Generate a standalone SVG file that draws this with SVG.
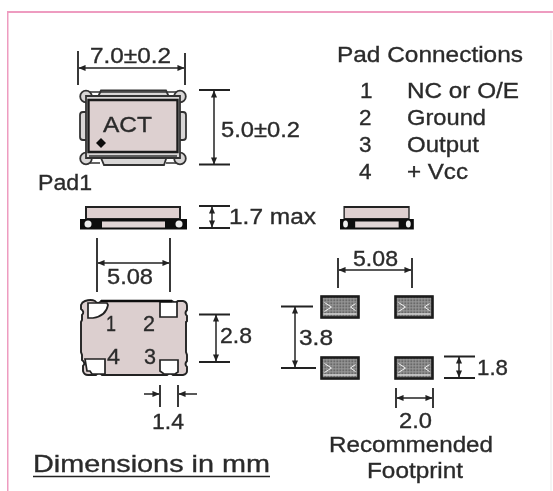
<svg xmlns="http://www.w3.org/2000/svg" width="553" height="491" viewBox="0 0 553 491">
<style>
text{font-family:"Liberation Sans",Arial,sans-serif;fill:#2b2b2b;font-size:22.500px;stroke:#2b2b2b;stroke-width:.35}
.d{stroke:#222;stroke-width:1.8;fill:none}
.a{stroke:#222;stroke-width:1.5;fill:none;marker-start:url(#h);marker-end:url(#h)}
.o{stroke:#222;stroke-width:1.5;fill:none;marker-end:url(#h)}
.b{fill:#dfd0d0;stroke:#222;stroke-width:2}
.w{fill:#fff;stroke:#222;stroke-width:1.7}
.g{fill:#d8d6d6;stroke:#333;stroke-width:1.8}
.p{fill:url(#hatch);stroke:#1c1c1c;stroke-width:2.600}
.c{fill:none;stroke:#f4f4f4;stroke-width:1}
</style>
<defs>
<filter id="soft" x="0" y="0" width="100%" height="100%"><feGaussianBlur stdDeviation="0.45"/></filter>
<marker id="h" viewBox="0 0 8 8" refX="7.5" refY="4" markerWidth="7" markerHeight="7" markerUnits="userSpaceOnUse" orient="auto-start-reverse"><path d="M0 0.5L8 4L0 7.5Z" fill="#222"/></marker>
<pattern id="hatch" width="3" height="3" patternUnits="userSpaceOnUse"><rect width="3" height="3" fill="#999"/><rect width="1.500" height="1.500" fill="#444"/></pattern>
<g id="side"><rect class="b" x="6" y="0" width="94" height="12"/><rect x="0" y="12" width="107" height="10.500" fill="#111"/><rect x="22" y="14.500" width="63" height="6" fill="#e0d4d4"/><circle cx="8" cy="17" r="3.500" fill="#eee"/><circle cx="99" cy="17" r="3.500" fill="#eee"/></g>
<g id="pad"><rect class="p" x="0" y="0" width="37" height="21"/><path class="c" d="M3 6L10 10.500L3 15M34 7L29 10.500L34 14M2 17.500H35"/></g>
</defs>
<rect x="0" y="0" width="553" height="491" fill="#fff"/>
<g filter="url(#soft)">
<path d="M7 491V11.500H553" fill="none" stroke="#ee9cc0" stroke-width="3"/>
<path d="M551 30V491" stroke="#f2f0f0" stroke-width="1.500"/>
<g id="top-view">
<path class="g" d="M101 90.500H166L170 99H97Z"/>
<path class="g" d="M99 153H168L164 165H104Z"/>
<rect class="g" x="80" y="112" width="9" height="28" rx="3"/>
<rect class="g" x="177" y="112" width="9" height="28" rx="3"/>
<circle class="g" cx="86" cy="96.500" r="5.800"/><circle class="g" cx="180" cy="96.500" r="5.800"/><circle class="g" cx="86" cy="158.500" r="5.800"/><circle class="g" cx="180" cy="158.500" r="5.800"/>
<path class="g" d="M86 96H180V158H86Z" stroke="none"/>
<path d="M90 92H176M90 163H100M166 163H176" stroke="#333" stroke-width="1.500"/>
<rect x="89" y="100" width="88" height="52" fill="#ddd0d0"/>
<path d="M88.500 100H177.500V152H88.500Z" fill="none" stroke="#1c1c1c" stroke-width="2.400"/>
<path d="M89 156H177" stroke="#333" stroke-width="1.500"/>
<path d="M101 138L106 143L101 148L96 143Z" fill="#111"/>
<text x="103" y="132" textLength="49" lengthAdjust="spacingAndGlyphs">ACT</text>
</g>
<g id="side-view-1"><use href="#side" x="80" y="207"/></g>
<g id="side-view-2"><use href="#side" transform="translate(340 207) scale(0.69 1)"/></g>
<g id="bottom-view">
<path d="M85 301Q91 299 95 301Q98 305 101 301H172Q175 304 178 301H183Q187 302 187 306V310Q184 313 187 316V321L186 322V352L187 355V361Q184 364 187 367V371Q187 374 183 375H173Q170 372 167 375H102Q99 371 96 375H88Q84 375 83 371V366Q86 363 82 360V355L81 352V322L82 320V315Q85 312 81 309V305Q82 302 85 301Z" fill="#dccfcf" stroke="#222" stroke-width="1.900"/>
<path class="w" d="M88 303H107L108 305Q106 316 93 318H88Z"/>
<path class="w" d="M160 302H177V317H160Z"/>
<path class="w" d="M85 359H105V374H92L90 371H87Z"/>
<path class="w" d="M160 360H178V372L175 374H164L160 371Z"/>
<path d="M101 301H172" stroke="#111" stroke-width="2.500"/>
<text x="106" y="331" textLength="10" lengthAdjust="spacingAndGlyphs">1</text><text x="143" y="331" textLength="12" lengthAdjust="spacingAndGlyphs">2</text><text x="107" y="364" textLength="13" lengthAdjust="spacingAndGlyphs">4</text><text x="144" y="364" textLength="12" lengthAdjust="spacingAndGlyphs">3</text>
</g>
<g id="footprint">
<use id="pad-1" href="#pad" x="321.500" y="296.500"/><use id="pad-2" href="#pad" x="395.500" y="296.500"/>
<use id="pad-3" href="#pad" x="321.500" y="357.500"/><use id="pad-4" href="#pad" x="395.500" y="357.500"/>
</g>
<g id="connectors">
<path class="d" d="M78 51V85M185 53V85M199 90H230M199 164.500H230M199 206H230M199 228H230M97 238V292M170 238V292M199 314.500H230M199 362H230M160 385V407M178 385V407M338 258V288M412 258V288M281 306.500H313M281 368H316M444 356.500H475M444 378H475M396 388V408M433 388V408"/>
<path class="a" d="M79 68H184"/><path class="a" d="M214 91V164"/><path class="a" d="M212 207V227"/><path class="a" d="M98 263H169"/><path class="a" d="M216 315V361"/>
<path class="a" d="M339 270H411"/><path class="a" d="M295 307V367"/><path class="a" d="M459 357V377"/><path class="a" d="M397 398H432"/>
<path class="o" d="M144 394H159"/><path class="o" d="M197 394H179"/>
</g>
<g id="labels">
<text x="90" y="63" textLength="81" lengthAdjust="spacingAndGlyphs">7.0±0.2</text>
<text x="221" y="137" textLength="79" lengthAdjust="spacingAndGlyphs">5.0±0.2</text>
<text x="38" y="190" textLength="54" lengthAdjust="spacingAndGlyphs">Pad1</text>
<text x="229" y="224" textLength="87" lengthAdjust="spacingAndGlyphs">1.7 max</text>
<text x="107" y="284" textLength="46" lengthAdjust="spacingAndGlyphs">5.08</text>
<text x="220" y="343" textLength="32" lengthAdjust="spacingAndGlyphs">2.8</text>
<text x="152" y="429" textLength="32" lengthAdjust="spacingAndGlyphs">1.4</text>
<text x="353" y="266" textLength="45" lengthAdjust="spacingAndGlyphs">5.08</text>
<text x="299" y="345" textLength="34" lengthAdjust="spacingAndGlyphs">3.8</text>
<text x="477" y="375" textLength="31" lengthAdjust="spacingAndGlyphs">1.8</text>
<text x="399" y="428" textLength="33" lengthAdjust="spacingAndGlyphs">2.0</text>
<text x="329" y="452" textLength="164" lengthAdjust="spacingAndGlyphs">Recommended</text>
<text x="367" y="478" textLength="96" lengthAdjust="spacingAndGlyphs">Footprint</text>
<text x="33" y="472" style="font-size:24px" textLength="237" lengthAdjust="spacingAndGlyphs">Dimensions in mm</text>
<path d="M33 476.500H270" stroke="#222" stroke-width="1.700"/>
<text x="337" y="62" textLength="186" lengthAdjust="spacingAndGlyphs">Pad Connections</text>
<text x="360" y="98">1</text><text x="407" y="98" textLength="112" lengthAdjust="spacingAndGlyphs">NC or O/E</text>
<text x="359" y="125">2</text><text x="407" y="125" textLength="79" lengthAdjust="spacingAndGlyphs">Ground</text>
<text x="359" y="152">3</text><text x="407" y="152" textLength="72" lengthAdjust="spacingAndGlyphs">Output</text>
<text x="359" y="179">4</text><text x="407" y="179" textLength="61" lengthAdjust="spacingAndGlyphs">+ Vcc</text>
</g>
</g>
</svg>
